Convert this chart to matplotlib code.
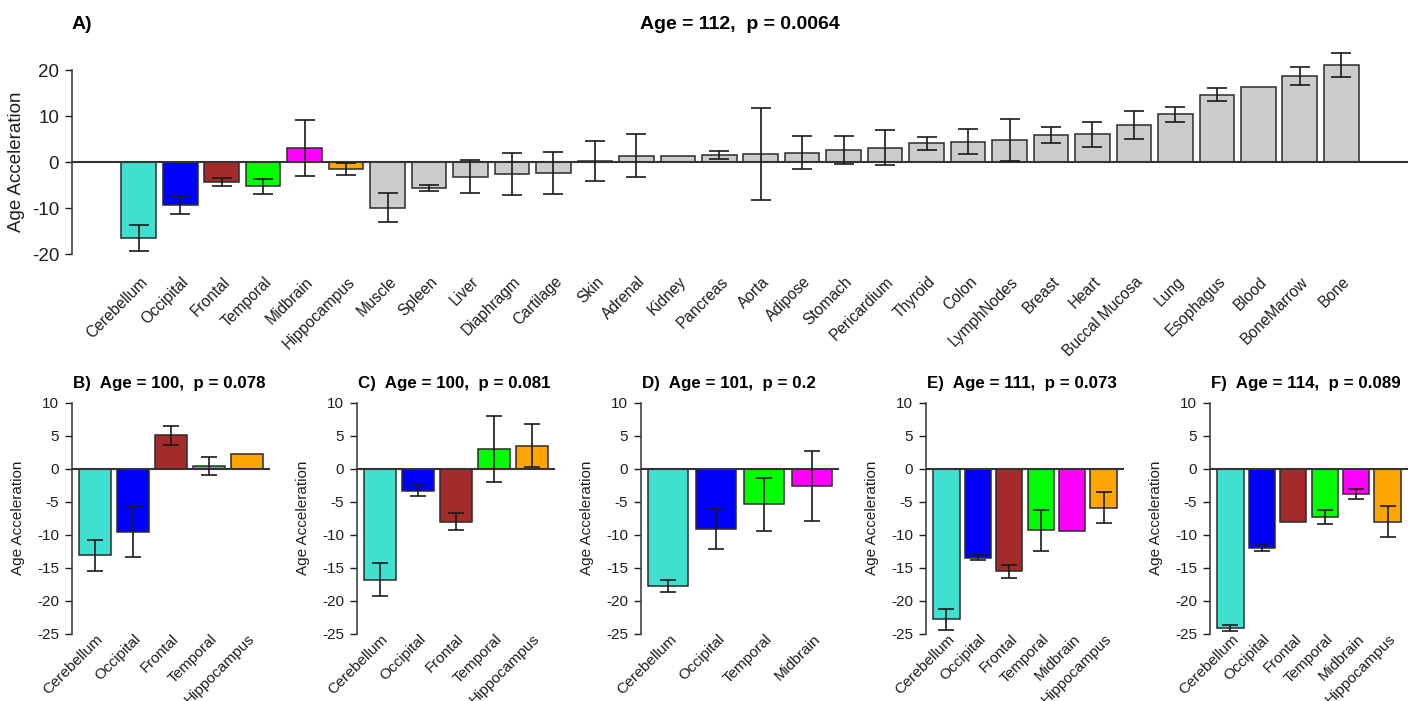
import matplotlib
matplotlib.use("Agg")
import matplotlib.pyplot as plt
import matplotlib.transforms as mtransforms
import numpy as np

plt.rcParams['font.family'] = ['Liberation Sans', 'DejaVu Sans']
plt.rcParams['axes.unicode_minus'] = False

nan = float('nan')

# ---------------- Panel A data ----------------
a_tissues = ["Cerebellum", "Occipital", "Frontal", "Temporal", "Midbrain", "Hippocampus",
             "Muscle", "Spleen", "Liver", "Diaphragm", "Cartilage", "Skin", "Adrenal",
             "Kidney", "Pancreas", "Aorta", "Adipose", "Stomach", "Pericardium", "Thyroid",
             "Colon", "LymphNodes", "Breast", "Heart", "Buccal Mucosa", "Lung", "Esophagus",
             "Blood", "BoneMarrow", "Bone"]
a_values = [-16.5, -9.35, -4.3, -5.3, 3.1, -1.55, -9.9, -5.7, -3.2, -2.65, -2.45, 0.2, 1.35,
            1.4, 1.5, 1.75, 2.05, 2.6, 3.15, 4.1, 4.4, 4.8, 5.9, 6.0, 8.0, 10.35, 14.65,
            16.2, 18.7, 21.15]
a_errors = [2.9, 1.95, 0.85, 1.7, 6.1, 1.35, 3.1, 0.65, 3.55, 4.55, 4.6, 4.4, 4.65,
            nan, 0.8, 10.05, 3.65, 3.0, 3.8, 1.4, 2.7, 4.6, 1.8, 2.8, 3.0, 1.65, 1.35,
            nan, 2.0, 2.65]
a_title = "Age = 112,  p = 0.0064"
a_yticks = [-20, -10, 0, 10, 20]

# ---------------- Panels B-F data ----------------
b_regions = ["Cerebellum", "Occipital", "Frontal", "Temporal", "Hippocampus"]
b_values = [-13.1, -9.6, 5.05, 0.45, 2.3]
b_errors = [2.35, 3.8, 1.45, 1.35, nan]

c_regions = ["Cerebellum", "Occipital", "Frontal", "Temporal", "Hippocampus"]
c_values = [-16.8, -3.35, -8.0, 3.0, 3.5]
c_errors = [2.55, 0.85, 1.3, 5.0, 3.3]

d_regions = ["Cerebellum", "Occipital", "Temporal", "Midbrain"]
d_values = [-17.8, -9.1, -5.4, -2.6]
d_errors = [0.95, 3.0, 4.05, 5.35]

e_regions = ["Cerebellum", "Occipital", "Frontal", "Temporal", "Midbrain", "Hippocampus"]
e_values = [-22.8, -13.5, -15.55, -9.3, -9.4, -5.9]
e_errors = [1.6, 0.4, 1.0, 3.1, nan, 2.3]

f_regions = ["Cerebellum", "Occipital", "Frontal", "Temporal", "Midbrain", "Hippocampus"]
f_values = [-24.2, -12.0, -8.0, -7.3, -3.8, -8.0]
f_errors = [0.45, 0.45, nan, 1.1, 0.75, 2.3]

small_letters = ["B)", "C)", "D)", "E)", "F)"]
small_ages = [100, 100, 101, 111, 114]
small_p = ["0.078", "0.081", "0.2", "0.073", "0.089"]
small_yticks = [-25, -20, -15, -10, -5, 0, 5, 10]

region_colors = {"Cerebellum": "#40E0D0", "Occipital": "#0000FF", "Frontal": "#A52A2A",
                 "Temporal": "#00FF00", "Midbrain": "#FF00FF", "Hippocampus": "#FFA500"}
other_color = "#CCCCCC"
edge = "#2b2b2b"
txt = "#1e1e1e"

W, H = 1417, 701
fig = plt.figure(figsize=(W / 100, H / 100), dpi=100)


def fx(px):
    return px / W


def fy(py):
    return 1 - py / H


def draw_panel(ax, names, values, errors, ylim, yticks, tick_fs, lab_fs, cap, lab_y_px):
    n = len(names)
    x = 0.7 + 1.2 * np.arange(n)
    cols = [region_colors.get(nm, other_color) for nm in names]
    ax.bar(x, values, width=1.0, color=cols, edgecolor=edge, linewidth=1.1, zorder=2)
    ax.axhline(0, color="#333333", lw=1.5, zorder=2.5)
    vals = np.array(values, dtype=float)
    errs = np.array(errors, dtype=float)
    ok = ~np.isnan(errs)
    ax.errorbar(x[ok], vals[ok], yerr=errs[ok], fmt='none', ecolor="#1a1a1a",
                elinewidth=1.2, capsize=cap, capthick=1.2, zorder=3)
    lo, hi = 0.2, 1.2 * n
    pad = 0.04 * (hi - lo)
    ax.set_xlim(lo - pad, hi + pad)
    ax.set_ylim(*ylim)
    ax.set_yticks(yticks)
    ax.tick_params(axis='y', labelsize=tick_fs, length=5.2, width=1.0, colors=txt, pad=4)
    ax.tick_params(axis='x', bottom=False, labelbottom=False)
    for s in ["top", "right", "bottom"]:
        ax.spines[s].set_visible(False)
    ax.spines["left"].set_bounds(yticks[0], yticks[-1])
    ax.spines["left"].set_color("#333333")
    ax.spines["left"].set_linewidth(1.1)
    ax.patch.set_alpha(0)
    trans = mtransforms.blended_transform_factory(ax.transData, fig.transFigure)
    for xi, nm in zip(x, names):
        ax.text(xi + 0.03, fy(lab_y_px), nm, transform=trans, rotation=45,
                rotation_mode='anchor', ha='right', va='top', fontsize=lab_fs,
                color=txt, clip_on=False)


# ---------------- Panel A ----------------
a_ylim = (-22, 25)
a_zero_px, a_scale = 162.0, 4.6
a_top_px = a_zero_px - a_ylim[1] * a_scale
a_bot_px = a_zero_px - a_ylim[0] * a_scale
axA = fig.add_axes([fx(72), fy(a_bot_px), fx(1336), (a_bot_px - a_top_px) / H])
draw_panel(axA, a_tissues, a_values, a_errors, a_ylim, a_yticks, 13.5, 11.2, 7.2, 274)
fig.text(fx(740), fy(29), a_title, ha='center', va='baseline', fontsize=14,
         fontweight='bold', color='black')
fig.text(fx(72), fy(29), "A)", ha='left', va='baseline', fontsize=14,
         fontweight='bold', color='black')
fig.text(fx(17), fy(162), "Age Acceleration", rotation=90, ha='center', va='center',
         fontsize=13.5, color=txt)

# ---------------- Panels B-F ----------------
s_ylim = (-26.4, 11.4)
s_zero_px, s_scale = 468.7, 6.6
s_top_px = s_zero_px - s_ylim[1] * s_scale
s_bot_px = s_zero_px - s_ylim[0] * s_scale
lefts = [72, 357, 641, 926, 1210]
small_data = [(b_regions, b_values, b_errors), (c_regions, c_values, c_errors),
              (d_regions, d_values, d_errors), (e_regions, e_values, e_errors),
              (f_regions, f_values, f_errors)]
for i, (names, vals, errs) in enumerate(small_data):
    L = lefts[i]
    ax = fig.add_axes([fx(L), fy(s_bot_px), fx(198), (s_bot_px - s_top_px) / H])
    draw_panel(ax, names, vals, errs, s_ylim, small_yticks, 11, 11, 6.0, 632)
    fig.text(fx(L + 1), fy(388), f"{small_letters[i]}  Age = {small_ages[i]},  p = {small_p[i]}",
             ha='left', va='baseline', fontsize=12.2, fontweight='bold', color='black')
    fig.text(fx(L - 54), fy(517.5), "Age Acceleration", rotation=90, ha='center',
             va='center', fontsize=11, color=txt)

fig.savefig("out.png", dpi=100)
